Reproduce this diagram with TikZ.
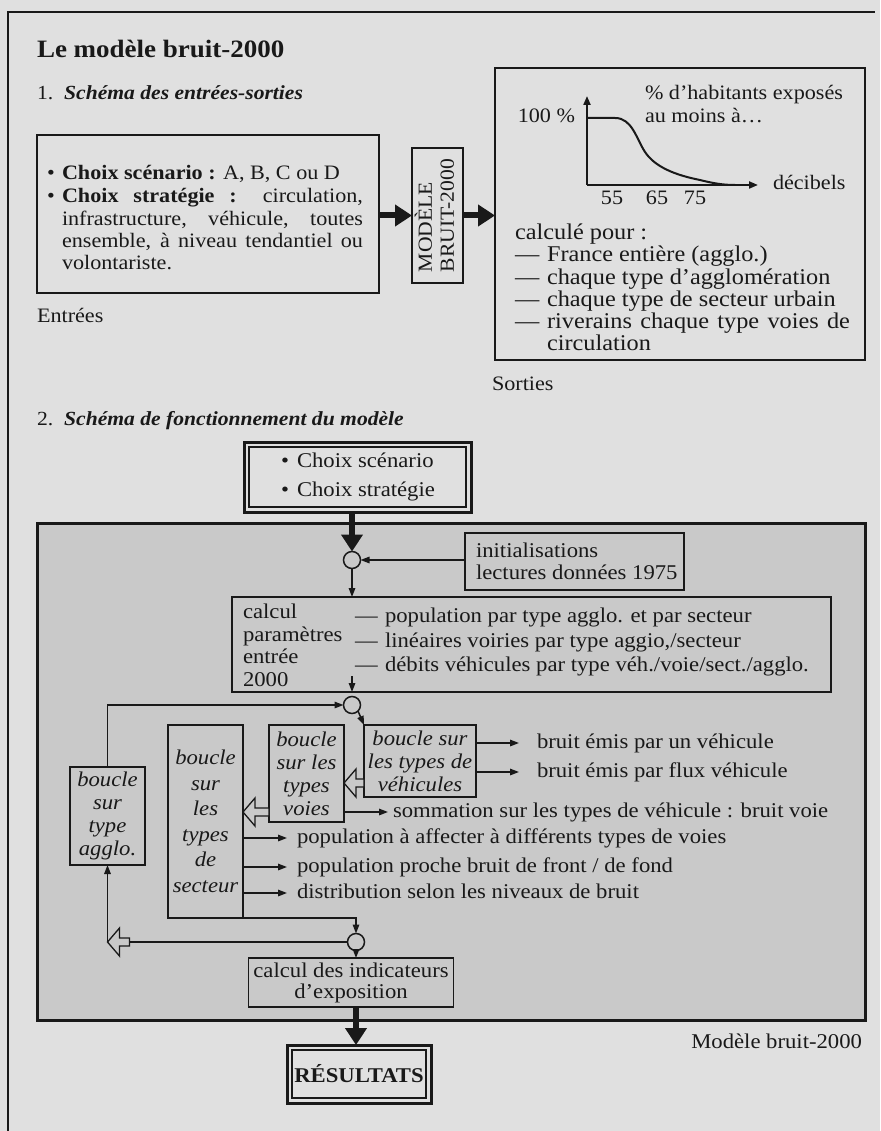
\documentclass[tikz,border=0pt]{standalone}
\usepackage{fontspec}
\usepackage{graphicx}
\setmainfont[FakeStretch=1.08]{Liberation Serif}
\usetikzlibrary{arrows.meta}
\definecolor{page}{gray}{0.88}
\definecolor{inner}{gray}{0.79}
\definecolor{ink}{gray}{0.1}
\newcommand\bodyfs{\fontsize{20.5}{22.5}\selectfont}
\newcommand\lowfs{\fontsize{21}{23}\selectfont}
\newcommand\listfs{\fontsize{22.5}{23}\selectfont}
\newcommand\titlefs{\fontsize{25}{28}\selectfont}
\newcommand\headfs{\fontsize{20}{24}\selectfont}
\begin{document}
\begin{tikzpicture}[x=1pt,y=-1pt,
  every node/.style={inner sep=0pt,outer sep=0pt,text=ink,font=\bodyfs},
  txt/.style={anchor=west,text height=15pt,text depth=4pt,font=\lowfs},
  btxt/.style={anchor=base west},
  ltxt/.style={anchor=base west,font=\lowfs},
  listtxt/.style={anchor=base west,font=\listfs},
  box/.style={draw=ink,line width=2.2pt},
  ibox/.style={draw=ink,line width=1.8pt,fill=inner},
  junc/.style={circle,draw=ink,line width=1.5pt,fill=inner,minimum size=17pt},
  arr/.style={draw=ink,line width=1.5pt,-{Triangle[length=9pt,width=6.5pt]}},
  bigarr/.style={draw=ink,line width=6pt,-{Triangle[length=17pt,width=21pt]}},
  axarr/.style={draw=ink,line width=2pt,-{Triangle[length=9pt,width=7pt]}},
  hollow/.style={draw=ink,line width=1.3pt,fill=inner,line join=miter},
  italbox/.style={ibox,align=center,font=\fontsize{21}{23}\selectfont\itshape},
]
\fill[page] (0,0) rectangle (880,1131);
\useasboundingbox (0,0) rectangle (880,1131);
\draw[ink,line width=2pt] (8,1131) -- (8,12) -- (875,12);

% ---------- part 1 ----------
\node[btxt,font=\titlefs\bfseries] (title) at (37,58) {Le modèle bruit-2000};
\node[btxt,font=\headfs] (sec1) at (37,100) {1.\hspace{11pt}\textbf{\itshape Schéma des entrées-sorties}};

\node[box,minimum width=342pt,minimum height=158pt] (inbox) at (208,214) {};
\node[btxt] (b1) at (47,180) {•};
\node[btxt] (in1) at (62,180) {\textbf{Choix scénario :} A, B, C ou D};
\node[btxt] (b2) at (47,203) {•};
\node[btxt] (in2) at (62,203) {\makebox[301pt][s]{\textbf{Choix stratégie :} circulation,}};
\node[btxt] (in3) at (62,226) {\makebox[301pt][s]{infrastructure, véhicule, toutes}};
\node[btxt] (in4) at (62,248) {\makebox[301pt][s]{ensemble, à niveau tendantiel ou}};
\node[btxt] (in5) at (62,270) {volontariste.};
\node[btxt] (entrees) at (37,322) {Entrées};

\node[draw=ink,line width=1.8pt,minimum width=51pt,minimum height=135pt] (model) at (437.5,215.5)
  {\rotatebox{90}{\fontsize{20}{22}\selectfont\begin{tabular}{@{}l@{}}MODÈLE\\BRUIT-2000\end{tabular}}};

\node[box,minimum width=370pt,minimum height=292pt] (outbox) at (680,214) {};
\draw[bigarr] (inbox.east |- model.west) -- (model.west);
\draw[bigarr] (model.east) -- (model.east -| outbox.west);

\coordinate (O) at (587,185);
\coordinate (Ytop) at (587,96);
\coordinate (Xend) at (758,185);
\draw[axarr] (O) -- (Ytop);
\draw[axarr] (O) -- (Xend);
\draw[ink,line width=2pt] (587,118) -- (615,118) .. controls (632,118) and (636,138) .. (645,152)
  .. controls (655,167) and (675,175) .. (700,180) .. controls (712,183) and (722,185) .. (735,185);
\node[anchor=base east] (p100) at (575,123) {100 \%};
\node[btxt] (hab1) at (645,100) {\% d’habitants exposés};
\node[btxt] (hab2) at (645,123) {au moins à…};
\node[btxt] (db) at (773,190) {décibels};
\node[anchor=base] (t55) at (612,205) {55};
\node[anchor=base] (t65) at (657,205) {65};
\node[anchor=base] (t75) at (695,205) {75};

\node[listtxt] (cp) at (515,240) {calculé pour :};
\node[listtxt] (d1) at (515,262) {—}; \node[listtxt] (l1) at (547,262) {France entière (agglo.)};
\node[listtxt] (d2) at (515,284) {—}; \node[listtxt] (l2) at (547,284) {chaque type d’agglomération};
\node[listtxt] (d3) at (515,306) {—}; \node[listtxt] (l3) at (547,306) {chaque type de secteur urbain};
\node[listtxt] (d4) at (515,328) {—}; \node[listtxt] (l4) at (547,328) {\makebox[303pt][s]{riverains chaque type voies de}};
\node[listtxt] (l5) at (547,350) {circulation};
\node[btxt] (sorties) at (492,390) {Sorties};

% ---------- part 2 ----------
\node[btxt,font=\headfs] (sec2) at (37,425) {2.\hspace{11pt}\textbf{\itshape Schéma de fonctionnement du modèle}};

\node[draw=ink,line width=3pt,fill=inner,minimum width=828pt,minimum height=497pt] (big) at (451,771.5) {};

\node[draw=ink,line width=3pt,fill=page,minimum width=227pt,minimum height=70pt] (choix) at (357.5,477) {};
\draw[ink,line width=1.2pt] ([shift={(5pt,-5pt)}]choix.north west) rectangle ([shift={(-5pt,5pt)}]choix.south east);
\node[ltxt] (cb1) at (281,467) {•}; \node[ltxt] (ct1) at (297,467) {Choix scénario};
\node[ltxt] (cb2) at (281,496) {•}; \node[ltxt] (ct2) at (297,496) {Choix stratégie};

\node[junc] (c1) at (352,560) {};
\draw[bigarr] (choix.south -| c1) -- (c1.north);

\node[ibox,minimum width=219pt,minimum height=57pt] (init) at (574.5,561.5) {};
\node[ltxt] (i1) at (476,557) {initialisations};
\node[ltxt] (i2) at (476,579) {lectures données 1975};
\draw[arr] (init.west |- c1) -- (c1.east);

\node[ibox,minimum width=599pt,minimum height=95pt] (calc) at (531.5,644.5) {};
\draw[arr] (c1.south) -- (c1.south |- calc.north);
\node[ltxt] (k1) at (243,618) {calcul};
\node[ltxt] (k2) at (243,641) {paramètres};
\node[ltxt] (k3) at (243,663) {entrée};
\node[ltxt] (k4) at (243,686) {2000};
\node[ltxt] (e1) at (355,622) {—}; \node[ltxt] (f1) at (385,622) {population par type agglo. et par secteur};
\node[ltxt] (e2) at (355,647) {—}; \node[ltxt] (f2) at (385,647) {linéaires voiries par type aggio,/secteur};
\node[ltxt] (e3) at (355,671) {—}; \node[ltxt] (f3) at (385,671) {débits véhicules par type véh./voie/sect./agglo.};
\coordinate (ca) at (352,676);
\draw[arr] (ca) -- (ca |- calc.south);

\node[junc] (c2) at (352,705) {};

\node[italbox,minimum width=75pt,minimum height=98pt] (agglo) at (107.5,816) {boucle\\sur\\type\\agglo.};
\draw[arr] (agglo.north) |- (c2.west);

\node[italbox,minimum width=112pt,minimum height=72pt] (veh) at (420,761) {boucle sur\\les types de\\véhicules};
\draw[arr] (c2.south east) -- (veh.north west);
\node[txt] (r1) at (537,743) {bruit émis par un véhicule};
\node[txt] (r2) at (537,772) {bruit émis par flux véhicule};
\draw[arr] (veh.east |- r1.west) -- ([xshift=-18pt]r1.west);
\draw[arr] (veh.east |- r2.west) -- ([xshift=-18pt]r2.west);

\node[italbox,minimum width=75pt,minimum height=97pt] (voie) at (306.5,773.5) {boucle\\sur les\\types\\voies};
\node[txt] (r3) at (393,812) {sommation sur les types de véhicule : bruit voie};
\draw[arr] (voie.east |- r3.west) -- ([xshift=-5pt]r3.west);
\coordinate (h1) at (344,783);
\draw[hollow] (h1) -- ++(12,-14) -- ++(0,10) -- ++(8,0) -- ++(0,8) -- ++(-8,0) -- ++(0,10) -- cycle;

\node[italbox,minimum width=75pt,minimum height=193pt,font=\fontsize{21}{25.5}\selectfont\itshape] (sect) at (205.5,821.5) {boucle\\sur\\les\\types\\de\\secteur};
\coordinate (h2) at (sect.east |- r3.west);
\draw[hollow] (h2) -- ++(12,-14) -- ++(0,10) -- ++(14,0) -- ++(0,8) -- ++(-14,0) -- ++(0,10) -- cycle;

\node[txt] (p1) at (297,838) {population à affecter à différents types de voies};
\node[txt] (p2) at (297,867) {population proche bruit de front / de fond};
\node[txt] (p3) at (297,893) {distribution selon les niveaux de bruit};
\draw[arr] (sect.east |- p1.west) -- ([xshift=-10pt]p1.west);
\draw[arr] (sect.east |- p2.west) -- ([xshift=-10pt]p2.west);
\draw[arr] (sect.east |- p3.west) -- ([xshift=-10pt]p3.west);

\node[junc] (c3) at (356,942) {};
\draw[arr] (sect.south east) -| (c3.north);
\coordinate (h3) at (agglo.south |- c3.west);
\draw[arr] (h3) -- (agglo.south);
\draw[ink,line width=1.5pt] (c3.west) -- ([xshift=22pt]h3);
\draw[hollow] (h3) -- ++(12,-14) -- ++(0,10) -- ++(10,0) -- ++(0,8) -- ++(-10,0) -- ++(0,10) -- cycle;

\node[ibox,minimum width=205pt,minimum height=49pt,align=center,font=\fontsize{21}{21}\selectfont] (indic) at (351,982.5) {calcul des indicateurs\\d’exposition};
\draw[arr] (c3.south) -- (c3.south |- indic.north);

\node[draw=ink,line width=3pt,fill=page,minimum width=144pt,minimum height=58pt,font=\fontsize{21}{24}\selectfont\bfseries] (res) at (359,1074) {RÉSULTATS};
\draw[ink,line width=1.2pt] ([shift={(5pt,-5pt)}]res.north west) rectangle ([shift={(-5pt,5pt)}]res.south east);
\draw[bigarr] (c3 |- indic.south) -- (c3 |- res.north);

\node[anchor=base east,font=\lowfs] (cap) at (862,1048) {Modèle bruit-2000};
\end{tikzpicture}
\end{document}
